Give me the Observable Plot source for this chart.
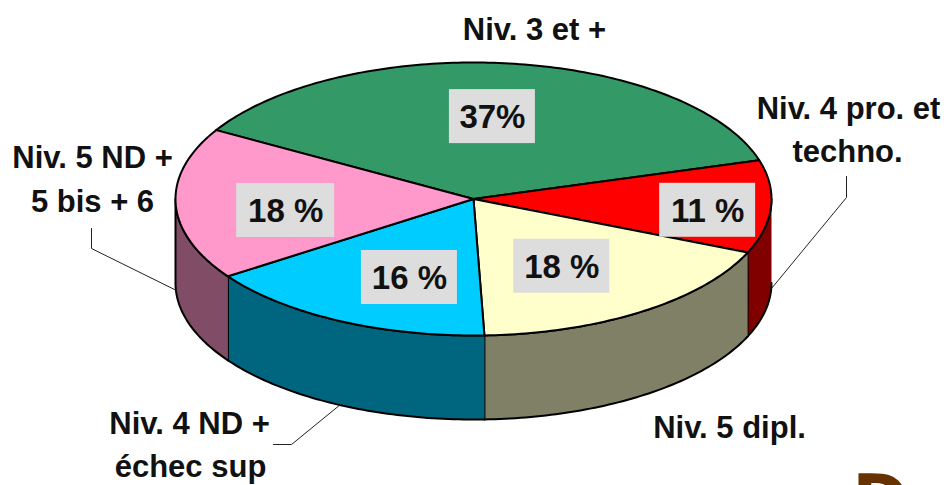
<!DOCTYPE html>
<html><head><meta charset="utf-8">
<script src="https://cdn.jsdelivr.net/npm/d3@7"></script>
<script src="https://cdn.jsdelivr.net/npm/@observablehq/plot@0.6"></script>
<style>html,body{margin:0;padding:0;background:#fff;overflow:hidden}svg{display:block}</style>
</head><body><div id="chart"></div>
<script>
const categories = ["Niv. 3 et +", "Niv. 4 pro. et techno.", "Niv. 5 dipl.", "Niv. 4 ND + échec sup", "Niv. 5 ND + 5 bis + 6"];
const shares = [37, 11, 18, 16, 18];
const shareLabels = ["37%", "11 %", "18 %", "16 %", "18 %"];
const topColors = ["#339966", "#FF0000", "#FFFFCC", "#00CCFF", "#FF99CC"];
const wallColors = ["#1a4d33", "#800000", "#808066", "#006680", "#804C66"];

// pie geometry
const cx = 473, cy = 198.5, rx = 298, ry = 136.5, depth = 84, startAngle = 300.3;
const onEllipse = (a, r = 1, dy = 0) => {
  const t = a * Math.PI / 180;
  return {x: cx + r * rx * Math.sin(t), y: cy - r * ry * Math.cos(t) + dy};
};
const total = d3.sum(shares);
let acc = startAngle;
const slices = categories.map((name, i) => {
  const a0 = acc, a1 = acc + shares[i] / total * 360;
  acc = a1;
  return {name, i, a0, a1};
});
const arc = (a0, a1, dy = 0) => {
  const n = Math.max(2, Math.ceil(a1 - a0));
  return d3.range(n + 1).map(k => onEllipse(a0 + (a1 - a0) * k / n, 1, dy));
};
const topPts = slices.flatMap(s =>
  [{x: cx, y: cy}, ...arc(s.a0, s.a1), {x: cx, y: cy}].map(p => ({...p, id: s.i, fill: topColors[s.i]})));
const wallPts = slices.flatMap(s => {
  // the visible front of the cylinder lies between 90 and 270 degrees, in either turn
  const out = [];
  for (const turn of [0, 360]) {
    const lo = Math.max(s.a0, 90 + turn), hi = Math.min(s.a1, 270 + turn);
    if (hi > lo) out.push(...[...arc(lo, hi), ...arc(lo, hi, depth).reverse()]
      .map(p => ({...p, id: s.i + "-" + turn, fill: wallColors[s.i]})));
  }
  return out;
});

// value boxes placed in each slice
const boxAngles = [366, 456, 509, 560.5, 622.4];
const boxRadii = [0.607, 0.79, 0.575, 0.614, 0.636];
const boxWidths = [86, 96, 96, 96, 98];
const boxHeight = 54;
const boxes = slices.map((s, i) => {
  const c = onEllipse(boxAngles[i], boxRadii[i]);
  return {...c, w: boxWidths[i], label: shareLabels[i]};
});

// category labels
const nameLines = [
  {text: "Niv. 3 et +", x: 534, y: 30},
  {text: "Niv. 4 pro. et", x: 848, y: 109},
  {text: "techno.", x: 847, y: 152},
  {text: "Niv. 5 dipl.", x: 729, y: 428},
  {text: "Niv. 4 ND +", x: 189, y: 424},
  {text: "échec sup", x: 190, y: 467},
  {text: "Niv. 5 ND +", x: 92, y: 158},
  {text: "5 bis + 6", x: 92, y: 202}
];
const leaders = [
  {id: 1, x: 846, y: 176}, {id: 1, x: 846, y: 197}, {id: 1, x: 771, y: 288},
  {id: 4, x: 91, y: 228}, {id: 4, x: 91, y: 248}, {id: 4, x: 176, y: 290},
  {id: 3, x: 273, y: 444}, {id: 3, x: 291, y: 444}, {id: 3, x: 340, y: 404}
];
const font = "Liberation Sans";
const chart = Plot.plot({
  width: 944, height: 485, margin: 0,
  x: {domain: [0, 944], range: [0, 944], axis: null},
  y: {domain: [0, 485], range: [0, 485], axis: null},
  color: {type: "identity"},
  style: {background: "#fff", overflow: "hidden"},
  marks: [
    Plot.line(wallPts, {x: "x", y: "y", z: "id", fill: "fill", stroke: "#000", strokeWidth: 2, strokeLinejoin: "round"}),
    Plot.line(topPts, {x: "x", y: "y", z: "id", fill: "fill", stroke: "#000", strokeWidth: 2, strokeLinejoin: "round"}),
    Plot.line(leaders, {x: "x", y: "y", z: "id", stroke: "#222", strokeWidth: 1}),
    Plot.rect(boxes, {x1: d => d.x - d.w / 2, x2: d => d.x + d.w / 2, y1: d => d.y - boxHeight / 2, y2: d => d.y + boxHeight / 2, fill: "#DDDDDD"}),
    Plot.text(boxes, {x: "x", y: "y", text: "label", fontFamily: font, fontWeight: "bold", fontSize: 33, fill: "#111", dy: 1}),
    Plot.text(nameLines, {x: "x", y: "y", text: "text", fontFamily: font, fontWeight: "bold", fontSize: 31, fill: "#111"}),
    Plot.text(["D"], {x: [880], y: [501], fontFamily: "DejaVu Sans", fontWeight: "bold", fontSize: 68, fill: "#663300"})
  ]
});
document.getElementById("chart").append(chart);
</script></body></html>
